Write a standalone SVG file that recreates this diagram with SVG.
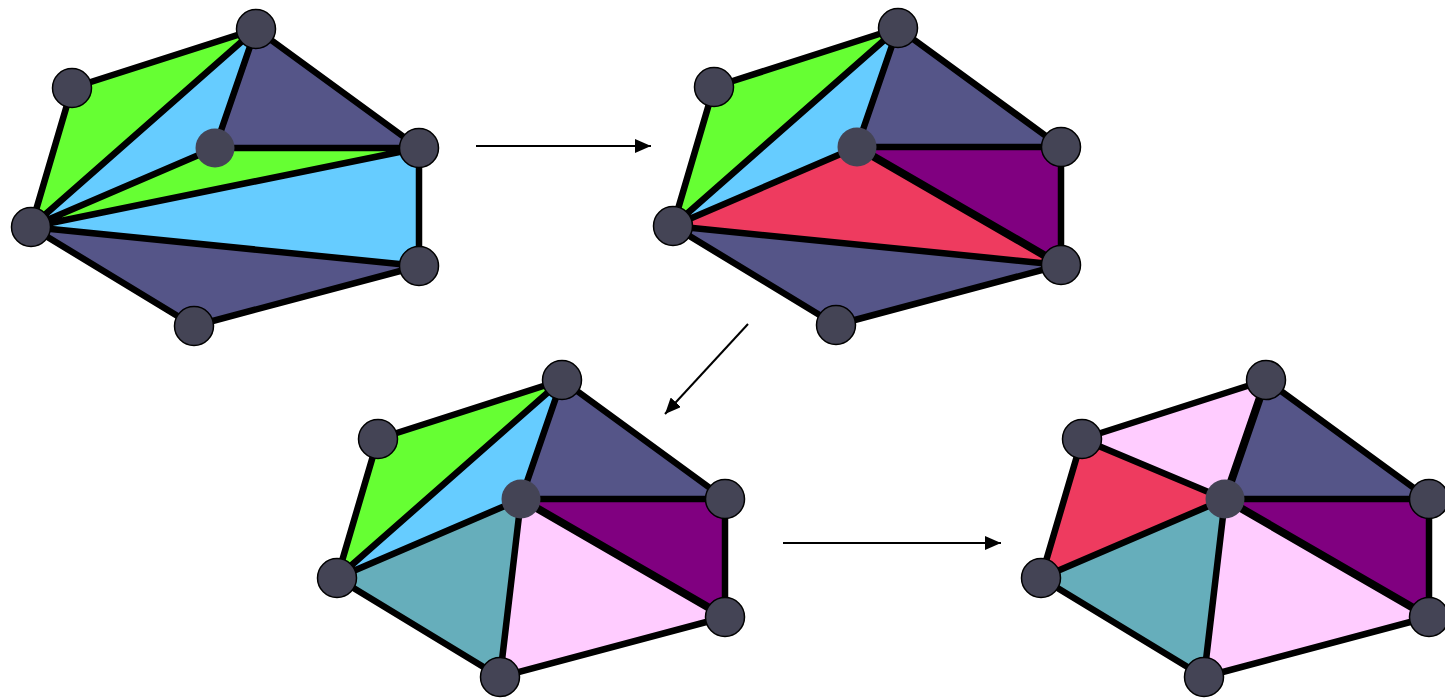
<svg xmlns="http://www.w3.org/2000/svg" width="1445" height="699" viewBox="0 0 1445 699">
<style>
.g{fill:#66FF33}.b{fill:#66CCFF}.s{fill:#555588}.p{fill:#800080}.r{fill:#EE3B5F}.k{fill:#FFCCFF}.t{fill:#66AEBB}
.e{stroke:#000;stroke-width:6.5;stroke-linecap:round;stroke-linejoin:round;fill:none}
.n{fill:#444455;stroke:#000;stroke-width:1.5}
.ni{fill:#444455}
.a{stroke:#000;stroke-width:2;fill:none;marker-end:url(#ah)}
</style>
<defs>
<marker id="ah" viewBox="0 0 16 14" refX="16" refY="7" markerWidth="16" markerHeight="14" markerUnits="userSpaceOnUse" orient="auto">
<path d="M0,0 L16,7 L0,14 z" fill="#000"/>
</marker>
<g id="verts">
<circle class="n" cx="256" cy="29" r="19.5"/>
<circle class="n" cx="72" cy="88" r="19.5"/>
<circle class="n" cx="31" cy="227" r="19.5"/>
<circle class="n" cx="194" cy="326" r="19.5"/>
<circle class="n" cx="419" cy="266" r="19.5"/>
<circle class="n" cx="419" cy="148" r="19.5"/>
<circle class="ni" cx="215" cy="148" r="19.5"/>
</g>
<path id="outer" class="e" d="M256,29 L72,88 L31,227 L194,326 L419,266 L419,148 Z"/>
</defs>

<g id="mesh1">
<polygon class="g" points="72,88 256,29 31,227"/>
<polygon class="b" points="256,29 215,148 31,227"/>
<polygon class="s" points="256,29 419,148 215,148"/>
<polygon class="g" points="215,148 419,148 31,227"/>
<polygon class="b" points="31,227 419,148 419,266"/>
<polygon class="s" points="31,227 419,266 194,326"/>
<path class="e" d="M256,29 L31,227 M256,29 L215,148 M215,148 L419,148 M215,148 L31,227 M31,227 L419,148 M31,227 L419,266"/>
<use href="#outer"/>
<use href="#verts"/>
</g>

<g id="mesh2" transform="translate(642,-1)">
<polygon class="g" points="72,88 256,29 31,227"/>
<polygon class="b" points="256,29 215,148 31,227"/>
<polygon class="s" points="256,29 419,148 215,148"/>
<polygon class="p" points="215,148 419,148 419,266"/>
<polygon class="r" points="215,148 419,266 31,227"/>
<polygon class="s" points="31,227 419,266 194,326"/>
<path class="e" d="M256,29 L31,227 M256,29 L215,148 M215,148 L419,148 M215,148 L31,227 M31,227 L419,266"/>
<path class="e" style="stroke-width:8" d="M215,148 L419,266"/>
<use href="#outer"/>
<use href="#verts"/>
</g>

<g id="mesh3" transform="translate(306,351)">
<polygon class="g" points="72,88 256,29 31,227"/>
<polygon class="b" points="256,29 215,148 31,227"/>
<polygon class="s" points="256,29 419,148 215,148"/>
<polygon class="p" points="215,148 419,148 419,266"/>
<polygon class="k" points="215,148 419,266 194,326"/>
<polygon class="t" points="31,227 215,148 194,326"/>
<path class="e" d="M256,29 L31,227 M256,29 L215,148 M215,148 L419,148 M215,148 L31,227 M215,148 L194,326"/>
<path class="e" style="stroke-width:8" d="M215,148 L419,266"/>
<use href="#outer"/>
<use href="#verts"/>
</g>

<g id="mesh4" transform="translate(1010,351)">
<polygon class="k" points="72,88 256,29 215,148"/>
<polygon class="r" points="72,88 215,148 31,227"/>
<polygon class="t" points="31,227 215,148 194,326"/>
<polygon class="k" points="215,148 419,266 194,326"/>
<polygon class="p" points="215,148 419,148 419,266"/>
<polygon class="s" points="256,29 419,148 215,148"/>
<path class="e" d="M72,88 L215,148 M215,148 L419,148 M215,148 L31,227 M215,148 L194,326"/>
<path class="e" style="stroke-width:8" d="M215,148 L419,266 M256,29 L215,148"/>
<use href="#outer"/>
<use href="#verts"/>
</g>

<g id="connectors">
<line class="a" x1="476" y1="146" x2="651" y2="146"/>
<line class="a" x1="748" y1="324" x2="665" y2="414"/>
<line class="a" x1="783" y1="543" x2="1001" y2="543"/>
</g>
</svg>
